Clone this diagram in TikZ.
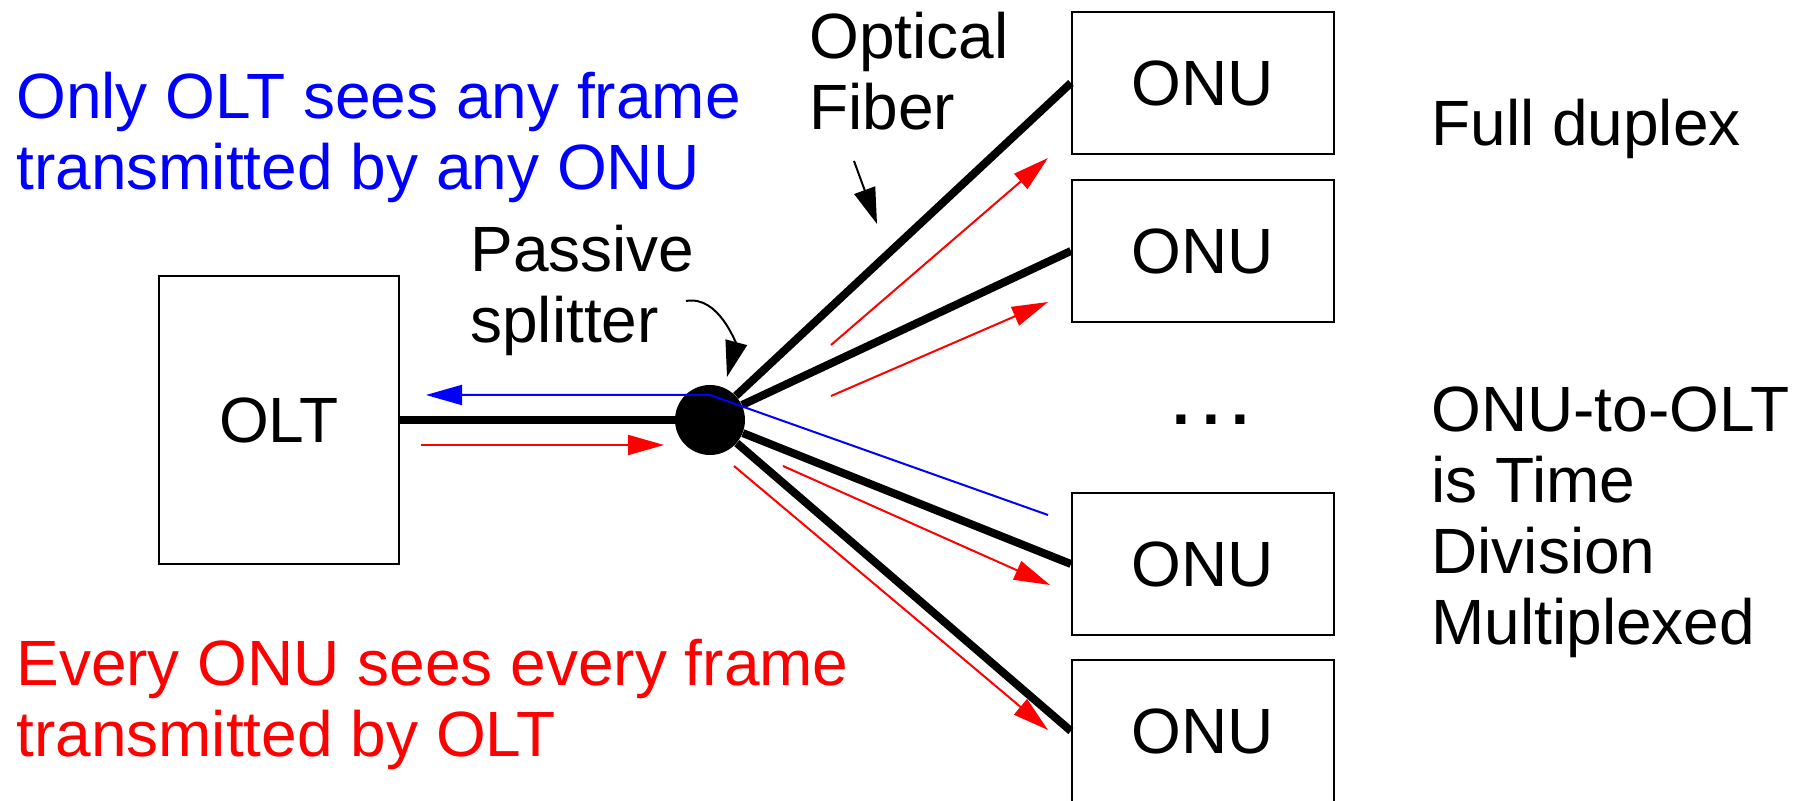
\documentclass[tikz,border=0pt]{standalone}
\usepackage{fontspec}
\setmainfont{Liberation Sans}
\usepackage{xcolor}
\usepackage{tikz}
\usetikzlibrary{arrows.meta,positioning,calc}
\definecolor{upB}{HTML}{0000FF}
\definecolor{downR}{HTML}{FF0000}

\begin{document}
\begin{tikzpicture}[
  x=0.5pt,y=-0.5pt,
  font=\fontsize{32}{35.5}\selectfont,
  every node/.style={align=left},
  unitbox/.style={draw=black,line width=1.1pt,inner sep=0pt,
              minimum width=131pt,minimum height=71pt},
  fibre/.style={line width=4pt},
  sigdown/.style={-{Triangle[length=18pt,width=10pt]},line width=1pt,downR},
  sigup/.style={-{Triangle[length=18pt,width=10pt]},line width=1pt,upB},
  callout/.style={-{Triangle[length=18pt,width=11pt]},line width=1pt},
  lbl/.style={anchor=base west,inner sep=0pt}
]
\useasboundingbox (0,0) rectangle (1805,801);
% Terminals
\node[unitbox,minimum width=120pt,minimum height=144pt] (olt) at (279,420) {OLT};
\node[unitbox] (onuA) at (1203,83)  {ONU};
\node[unitbox] (onuB) at (1203,251) {ONU};
\node[unitbox] (onuC) at (1203,564) {ONU};
\node[unitbox] (onuD) at (1203,731) {ONU};
\node[circle,fill=black,inner sep=0pt,minimum size=35pt] (split) at (710,420) {};
\node (dots) at (1211,420) {\bfseries .\hspace{6pt}.\hspace{6pt}.};

% Fibres
\draw[fibre] (olt.east) -- (split);
\draw[fibre] (split) -- (onuA.west);
\draw[fibre] (split) -- (onuB.west);
\draw[fibre] (split) -- (onuC.west);
\draw[fibre] (split) -- (onuD.west);

% Signal ends
\coordinate (dnS0) at (421,445);  \coordinate (dnE0) at (664,445);
\coordinate (dnS1) at (831,345);  \coordinate (dnE1) at (1048,158);
\coordinate (dnS2) at (831,396);  \coordinate (dnE2) at (1048,302);
\coordinate (dnS3) at (783,466);  \coordinate (dnE3) at (1050,585);
\coordinate (dnS4) at (734,466);  \coordinate (dnE4) at (1048,730);
\coordinate (upS) at (1048,515);  \coordinate (upK) at (710,395);
\coordinate (upE) at (426,395);

% Downstream: broadcast
\draw[sigdown] (dnS0) -- (dnE0);
\draw[sigdown] (dnS1) -- (dnE1);
\draw[sigdown] (dnS2) -- (dnE2);
\draw[sigdown] (dnS3) -- (dnE3);
\draw[sigdown] (dnS4) -- (dnE4);
% Upstream
\draw[sigup] (upS) -- (upK) -- (upE);

% Labels (base = last line)
\node[lbl,text=upB] (seeUp) at (16,190) {Only OLT sees any frame\\transmitted by any ONU};
\node[lbl,text=downR] (seeDown) at (16,756) {Every ONU sees every frame\\transmitted by OLT};
\node[lbl] (fibreLbl) at (809,130) {Optical\\Fiber};
\node[lbl] (splitLbl) at (470,343) {Passive\\splitter};
\node[lbl] (duplex) at (1431,146) {Full duplex};
\node[lbl] (tdm) at (1431,645) {ONU-to-OLT\\is Time\\Division\\Multiplexed};

% Callouts
\coordinate (fibreTail) at (854,161);  \coordinate (fibreTip) at (877,224);
\coordinate (splitTail) at (686,301);  \coordinate (splitTip) at (727,377);
\draw[callout] (fibreTail) -- (fibreTip);
\draw[callout] (splitTail) to[out=10,in=75] (splitTip);
\end{tikzpicture}
\end{document}
